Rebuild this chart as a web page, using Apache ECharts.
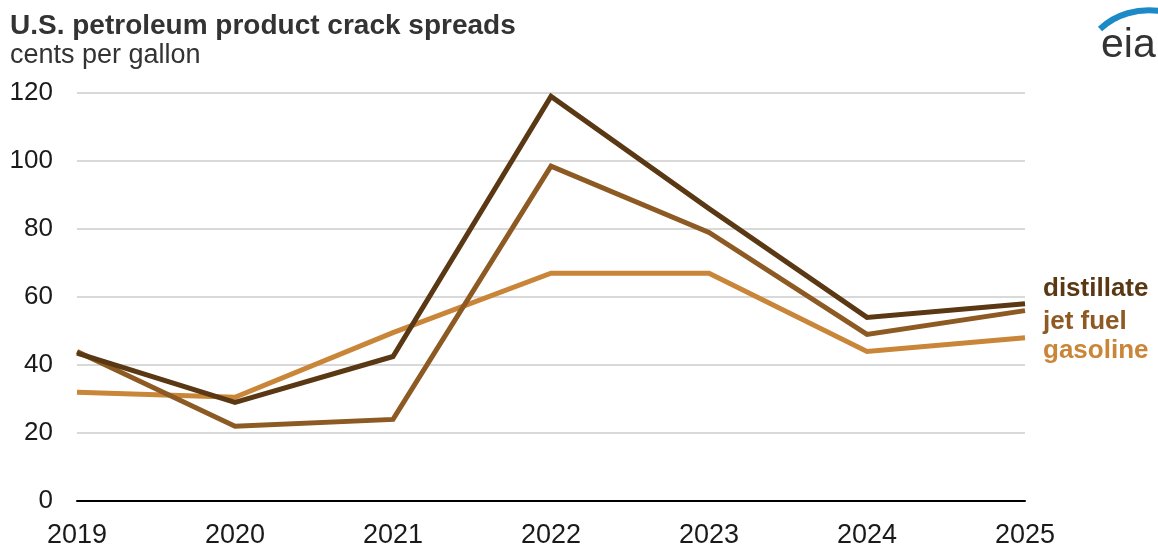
<!DOCTYPE html>
<html>
<head>
<meta charset="utf-8">
<script src="https://cdn.jsdelivr.net/npm/echarts@6/dist/echarts.min.js"></script>
<style>
  html, body { margin: 0; padding: 0; background: #fff; }
  #chart { width: 1158px; height: 552px; }
</style>
</head>
<body>
<div id="chart"></div>
<script>
// Annual crack spreads, cents per gallon
const years = ['2019', '2020', '2021', '2022', '2023', '2024', '2025'];
const distillate = [43.5, 29, 42.5, 119, 86, 54, 58];
const jetFuel = [44, 22, 24, 98.5, 79, 49, 56];
const gasoline = [32, 30.5, 49.5, 67, 67, 44, 48];
const yTicks = [0, 20, 40, 60, 80, 100, 120];

const colors = { distillate: '#5a3814', jet: '#8c5a22', gasoline: '#c98538' };
const font = 'Liberation Sans, Arial, sans-serif';

function lineSeries(name, data, color, dy) {
  return {
    name: name,
    type: 'line',
    data: data,
    symbol: 'none',
    lineStyle: { color: color, width: 5, join: 'miter' },
    itemStyle: { color: color },
    z: 3,
    endLabel: {
      show: true,
      formatter: name,
      color: color,
      fontFamily: font,
      fontWeight: 'bold',
      fontSize: 26,
      distance: 18,
      offset: [0, dy]
    }
  };
}

const chart = echarts.init(document.getElementById('chart'), null, { renderer: 'canvas' });
chart.setOption({
  backgroundColor: '#ffffff',
  animation: false,
  grid: { left: 77, right: 133, top: 93, bottom: 51, containLabel: false },
  xAxis: {
    type: 'category',
    data: years,
    boundaryGap: false,
    axisLine: { show: true, lineStyle: { color: '#000', width: 2 } },
    axisTick: { show: false },
    axisLabel: { color: '#1a1a1a', fontFamily: font, fontSize: 27, margin: 21 },
    splitLine: { show: false }
  },
  yAxis: {
    type: 'value',
    min: yTicks[0],
    max: yTicks[yTicks.length - 1],
    interval: 20,
    axisLine: { show: false },
    axisTick: { show: false },
    axisLabel: { color: '#1a1a1a', fontFamily: font, fontSize: 26, margin: 24 },
    splitLine: { lineStyle: { color: '#d9d9d9', width: 2 } }
  },
  series: [
    lineSeries('gasoline', gasoline, colors.gasoline, 13),
    lineSeries('jet fuel', jetFuel, colors.jet, 11),
    lineSeries('distillate', distillate, colors.distillate, -15)
  ],
  graphic: [
    {
      type: 'text', x: 10, y: 12,
      style: { text: 'U.S. petroleum product crack spreads', font: 'bold 28px ' + font, fill: '#333333' }
    },
    {
      type: 'text', x: 10, y: 42,
      style: { text: 'cents per gallon', font: '27px ' + font, fill: '#333333' }
    },
    {
      type: 'text', x: 1101, y: 25,
      style: { text: 'eia', font: '41px ' + font, fill: '#333333' }
    },
    {
      type: 'bezierCurve',
      shape: { x1: 1100, y1: 29, x2: 1160, y2: 11, cpx1: 1116, cpy1: 14, cpx2: 1138, cpy2: 8 },
      style: { stroke: '#1b8ac6', lineWidth: 6, fill: null, lineCap: 'butt' }
    }
  ]
});
</script>
</body>
</html>
